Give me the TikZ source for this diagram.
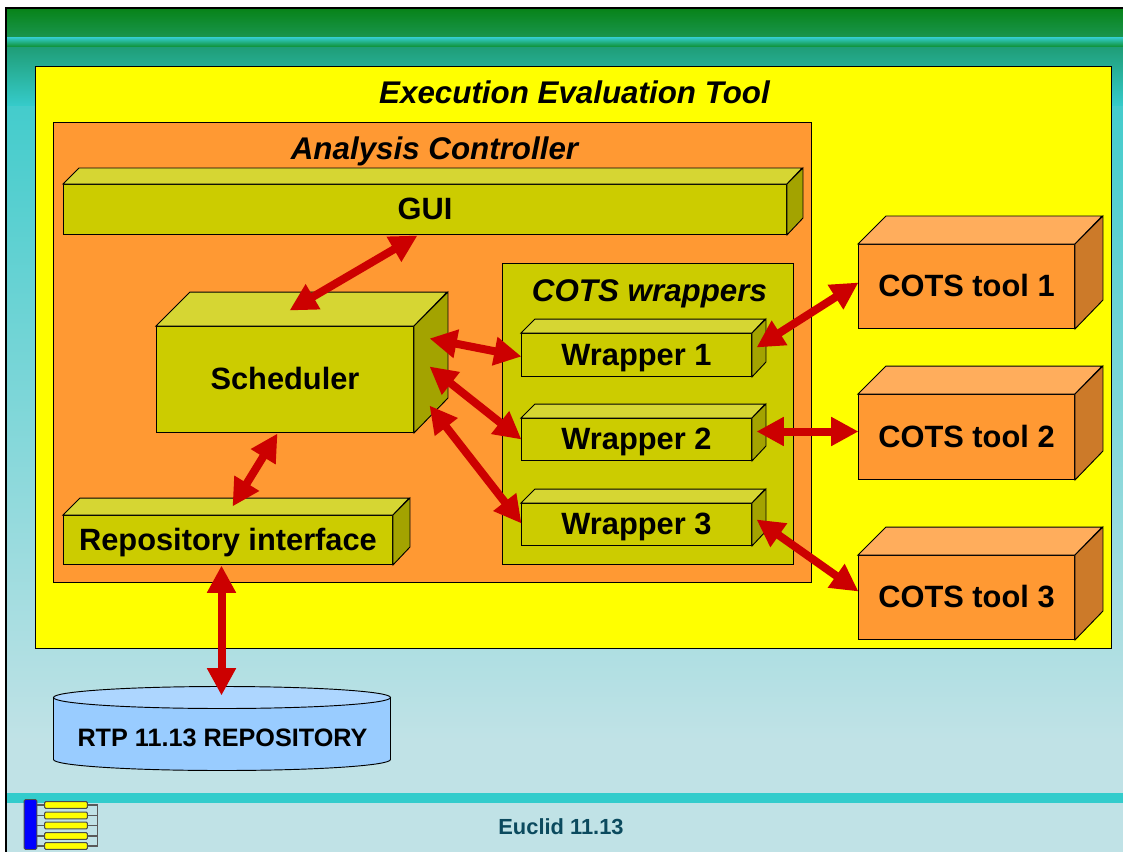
\documentclass[tikz,border=0pt]{standalone}
\usepackage{fontspec}
\setmainfont{Liberation Sans}
\usetikzlibrary{arrows.meta,shapes.geometric}
\definecolor{olface}{HTML}{CCCC00}
\definecolor{oltop}{HTML}{D6D633}
\definecolor{olside}{HTML}{A3A300}
\definecolor{orface}{HTML}{FF9933}
\definecolor{ortop}{HTML}{FFAD5C}
\definecolor{orside}{HTML}{CC7A29}
\definecolor{arrowred}{HTML}{CC0000}
\definecolor{dbface}{HTML}{99CCFF}
\definecolor{dbtop}{HTML}{ADD6FF}
\definecolor{footband}{HTML}{33CCCC}
\definecolor{paleblue}{HTML}{C0E2E6}
\definecolor{euclid}{HTML}{0B4A5E}
\definecolor{pureyellow}{HTML}{FFFF00}
\definecolor{pureblue}{HTML}{0000FF}
\definecolor{ga}{HTML}{08841A}\definecolor{gb}{HTML}{1A9650}
\definecolor{gc}{HTML}{33CCCC}\definecolor{gd}{HTML}{0A8A22}
\definecolor{ge}{HTML}{1F9E78}\definecolor{gf}{HTML}{36CCCC}
\definecolor{gg}{HTML}{44CCCC}
\tikzset{
  outline/.style={draw=black,line width=0.7pt,line join=miter},
  frontface/.style={outline,inner sep=0pt,font=\bfseries\fontsize{23.1}{26}\selectfont,anchor=center,text height=15.5pt,text depth=0pt},
  link/.style={draw=arrowred,line width=6pt,{Triangle[length=20.5pt,width=20.5pt]}-{Triangle[length=20.5pt,width=20.5pt]}},
  container/.style={outline,inner sep=0pt},
  heading/.style={font=\bfseries\itshape\fontsize{23.5}{26}\selectfont,inner sep=0pt,text height=16.5pt,text depth=0pt},
  logobar/.style={draw=black!70,line width=0.7pt,rounded corners=0.8pt,fill=pureyellow,inner sep=0pt,minimum width=32pt,minimum height=5pt},
  logoline/.style={draw=black!65,line width=0.8pt},
}
\newcommand{\putbox}[6]{% name, x0,y0,x1,y1, depth
  \def\bn{#1}\def\bxa{#2}\def\bya{#3}\def\bxb{#4}\def\byb{#5}\def\bd{#6}}
\newcommand{\drawbox}[4]{% face, top, side, text
  \pgfmathsetmacro{\cx}{(\bxa+\bxb)/2}
  \pgfmathsetmacro{\cy}{(\bya+\byb)/2}
  \pgfmathsetmacro{\bwid}{(\bxb-\bxa)*0.75}
  \pgfmathsetmacro{\bhei}{(\byb-\bya)*0.75}
  \node[frontface,fill=#1,minimum width=\bwid pt,minimum height=\bhei pt] (\bn) at (\cx,\cy) {#4};
  \draw[outline,fill=#2] (\bn.north west) -- ++(\bd,-\bd) -- ++(\bxb-\bxa,0) -- (\bn.north east) -- cycle;
  \draw[outline,fill=#3] (\bn.north east) -- ++(\bd,-\bd) -- ++(0,\byb-\bya) -- (\bn.south east) -- cycle;
}
\begin{document}
\begin{tikzpicture}[x=0.75pt,y=-0.75pt]
\useasboundingbox (0.5,0.5) rectangle (1123.5,852.5);
\fill[white] (0,0) rectangle (1124,853);
% slide background
\fill[top color=ga,bottom color=gb] (7,10) rectangle (1124,38.3);
\fill[top color=gc,bottom color=gd] (7,38) rectangle (1124,48.3);
\fill[top color=ge,bottom color=gf] (7,48) rectangle (1124,107.3);
\fill[top color=gg,bottom color=paleblue] (7,107) rectangle (1124,740.3);
\fill[paleblue] (7,740) rectangle (1124,793.3);
\fill[footband] (7,793) rectangle (1124,803);
\fill[paleblue] (7,803) rectangle (1124,853);
\draw[black,line width=1.5pt] (7,853) -- (7,9) -- (1124,9);
% containers
\node[container,fill=pureyellow,minimum width=807pt,minimum height=436.5pt] (tool) at (574,358) {};
\node[heading] (tooltitle) at (575,93.5) {Execution Evaluation Tool};
\node[container,fill=orface,minimum width=568.5pt,minimum height=345pt] (controller) at (433,353) {};
\node[heading] (controllertitle) at (435,149.5) {Analysis Controller};
\node[container,fill=olface,minimum width=218.25pt,minimum height=225.75pt] (wrappers) at (648.5,414.5) {};
\node[heading] (wrapperstitle) at (650,291) {COTS wrappers};
% boxes
\putbox{gui}{64}{185}{787}{235}{16}\drawbox{olface}{oltop}{olside}{GUI}
\putbox{sched}{157}{327}{414}{433}{34}\drawbox{olface}{oltop}{olside}{Scheduler}
\putbox{repoif}{64}{516}{393}{565}{17}\drawbox{olface}{oltop}{olside}{Repository interface}
\putbox{wone}{522}{334}{752}{377}{14}\drawbox{olface}{oltop}{olside}{Wrapper 1}
\putbox{wtwo}{522}{419}{752}{461}{14}\drawbox{olface}{oltop}{olside}{Wrapper 2}
\putbox{wthree}{522}{504}{752}{546}{14}\drawbox{olface}{oltop}{olside}{Wrapper 3}
\putbox{tone}{859}{245}{1075}{329}{28}\drawbox{orface}{ortop}{orside}{COTS tool 1}
\putbox{ttwo}{859}{395}{1075}{480}{28}\drawbox{orface}{ortop}{orside}{COTS tool 2}
\putbox{tthree}{859}{556}{1075}{640}{28}\drawbox{orface}{ortop}{orside}{COTS tool 3}
% repository cylinder
\draw[outline,fill=dbface] (54,698) -- (54,760) arc[start angle=180,end angle=360,x radius=168.5,y radius=-11] -- (391,698) -- cycle;
\draw[outline,fill=dbtop] (222.5,698) ellipse[x radius=168.5,y radius=11];
\node[inner sep=0pt,font=\bfseries\fontsize{18.9}{22}\selectfont] (repolabel) at (223,738) {RTP 11.13 REPOSITORY};
% connector ends
\coordinate (guiS) at (418,236);
\coordinate (schedN) at (290,311);
\coordinate (schedA) at (430,339);
\coordinate (schedB) at (430,367);
\coordinate (schedC) at (430,406);
\coordinate (schedS) at (278,434);
\coordinate (wonew) at (522,357);
\coordinate (wtwow) at (522,440);
\coordinate (wthreew) at (522,524);
\coordinate (wonee) at (757,348);
\coordinate (wtwoe) at (757,432);
\coordinate (wthreee) at (757,520);
\coordinate (tonew) at (859,283);
\coordinate (ttwow) at (859,432);
\coordinate (tthreew) at (859,592);
\coordinate (repoifN) at (233,507);
\coordinate (repoifS) at (222,566);
\coordinate (repoN) at (222,696);
\draw[link] (guiS) -- (schedN);
\draw[link] (schedA) -- (wonew);
\draw[link] (schedB) -- (wtwow);
\draw[link] (schedC) -- (wthreew);
\draw[link] (wonee) -- (tonew);
\draw[link] (wtwoe) -- (ttwow);
\draw[link] (wthreee) -- (tthreew);
\draw[link] (schedS) -- (repoifN);
\draw[link] (repoifS) -- (repoN);
% footer
\node[inner sep=0pt,font=\bfseries\fontsize{16.4}{18}\selectfont,text=euclid] (footer) at (561.5,827.5) {Euclid 11.13};
% logo
\node[draw=black!70,line width=0.7pt,rounded corners=1pt,fill=pureblue,inner sep=0pt,minimum width=9.5pt,minimum height=37.5pt] (logoroot) at (31,825) {};
\coordinate (logorail) at (98,805.5);
\foreach \i/\y in {1/805.5,2/816,3/826,4/836.5,5/846.5}{
  \draw[logoline] (logoroot.east |- 0,\y) -- (66,\y);
  \draw[logoline] (66,\y) -- (logorail |- 0,\y);
  \node[logobar] (bar\i) at (66.5,\y) {};
}
\draw[logoline] (logorail) -- (logorail |- bar5);
\end{tikzpicture}
\end{document}
